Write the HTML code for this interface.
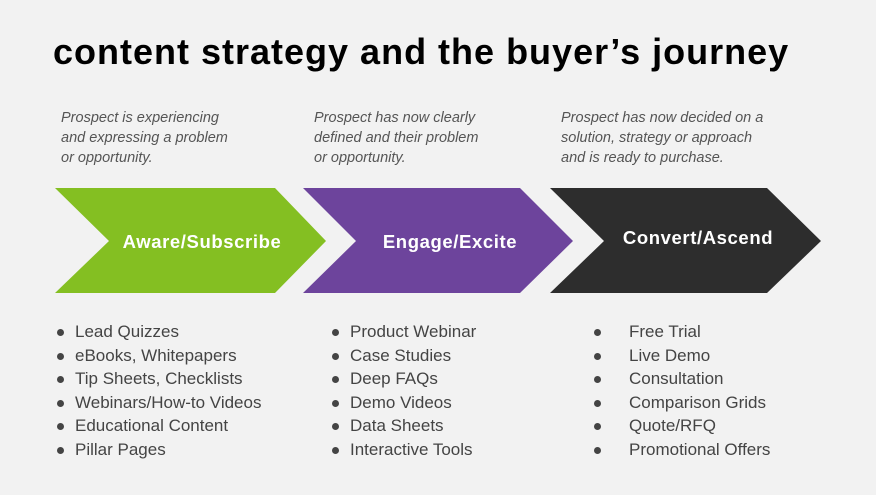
<!DOCTYPE html>
<html><head><style>
body{margin:0;width:876px;height:495px;background:#f2f2f2;position:relative;overflow:hidden;font-family:"Liberation Sans",sans-serif}
.t{position:absolute;left:53px;top:31px;font-size:36px;font-weight:bold;color:#000;letter-spacing:1px}
.d{position:absolute;top:108px;font-size:14.5px;font-style:italic;color:#555;line-height:20px}
ul{position:absolute;top:320px;margin:0;padding:0;list-style:none;font-size:17px;color:#444;line-height:23.6px}
li{position:relative}
li:before{content:"";position:absolute;width:7px;height:7px;border-radius:50%;background:#444;top:9px;left:-18px}
.c3 li:before{left:-35px}
</style></head><body>
<div class="t">content strategy and the buyer’s journey</div>
<div class="d" style="left:61px">Prospect is experiencing<br>and expressing a problem<br>or opportunity.</div>
<div class="d" style="left:314px">Prospect has now clearly<br>defined and their problem<br>or opportunity.</div>
<div class="d" style="left:561px">Prospect has now decided on a<br>solution, strategy or approach<br>and is ready to purchase.</div>
<svg width="876" height="495" style="position:absolute;left:0;top:0">
<polygon points="55,188 275,188 326,241 275,293 55,293 109,241" fill="#84bf22"/>
<polygon points="303,188 520,188 573,241 520,293 303,293 356,241" fill="#6d449c"/>
<polygon points="550,188 767,188 821,241 767,293 550,293 604,241" fill="#2d2d2d"/>
<g font-family="Liberation Sans,sans-serif" font-weight="bold" font-size="18.5" fill="#fff" text-anchor="middle" letter-spacing="0.6">
<text x="202" y="248">Aware/Subscribe</text>
<text x="450" y="248">Engage/Excite</text>
<text x="698" y="244">Convert/Ascend</text>
</g></svg>
<ul style="left:75px"><li>Lead Quizzes</li><li>eBooks, Whitepapers</li><li>Tip Sheets, Checklists</li><li>Webinars/How-to Videos</li><li>Educational Content</li><li>Pillar Pages</li></ul>
<ul style="left:350px"><li>Product Webinar</li><li>Case Studies</li><li>Deep FAQs</li><li>Demo Videos</li><li>Data Sheets</li><li>Interactive Tools</li></ul>
<ul style="left:629px" class="c3"><li>Free Trial</li><li>Live Demo</li><li>Consultation</li><li>Comparison Grids</li><li>Quote/RFQ</li><li>Promotional Offers</li></ul>
</body></html>
